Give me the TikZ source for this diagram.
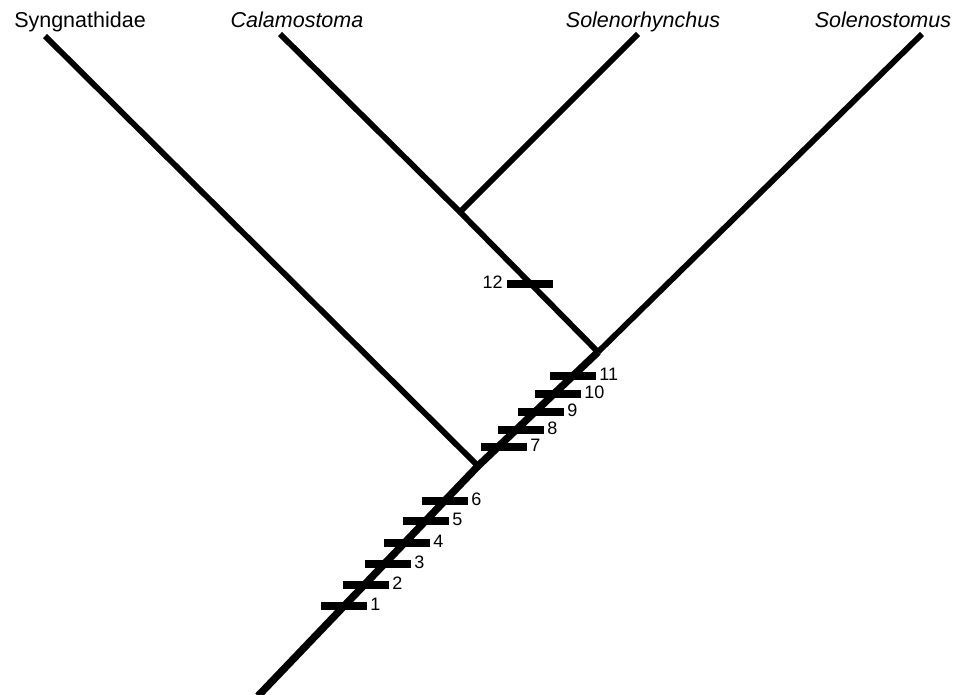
\documentclass[tikz,border=0pt]{standalone}
\usepackage{fontspec}
\setmainfont{Liberation Sans}
\begin{document}
\begin{tikzpicture}[x=1pt,y=-1pt,
  branch/.style={line width=5.8pt},
  trunk/.style={line width=7.4pt},
  bar/.style={rectangle,fill=black,minimum width=46pt,minimum height=8.5pt,inner sep=0pt},
  taxon/.style={anchor=base,inner sep=0pt,font=\fontsize{21.5}{25}\selectfont},
  numlab/.style={anchor=west,inner sep=0pt,font=\fontsize{18}{20}\selectfont},
  numlabl/.style={anchor=east,inner sep=0pt,font=\fontsize{18}{20}\selectfont}]
\useasboundingbox (0,0) rectangle (958,694);
% taxon labels
\node[taxon] (lSyn) at (80,27) {Syngnathidae};
\node[taxon] (lCal) at (297,27) {\itshape Calamostoma};
\node[taxon] (lSor) at (643,27) {\itshape Solenorhynchus};
\node[taxon] (lSol) at (883,27) {\itshape Solenostomus};
% tips and internal nodes
\coordinate (tSyn) at (45,36);
\coordinate (tCal) at (280,34);
\coordinate (tSor) at (638,34);
\coordinate (tSol) at (922,34);
\coordinate (root) at (258,696);
\coordinate (A) at (478,466);
\coordinate (B) at (598,352);
\coordinate (C) at (460,212);
% branches
\draw[trunk,line join=miter] (root) -- (A) -- (B);
\draw[branch] (B) -- (tSol);
\draw[branch] (A) -- (tSyn);
\draw[branch] (B) -- (C) -- (tCal);
\draw[branch] (C) -- (tSor);
% character bars
\node[bar] (b1) at (344,606) {};
\node[bar] (b2) at (366,585) {};
\node[bar] (b3) at (388,564) {};
\node[bar] (b4) at (407,543) {};
\node[bar] (b5) at (426,521) {};
\node[bar] (b6) at (445,501) {};
\node[bar] (b7) at (504,447) {};
\node[bar] (b8) at (521,430) {};
\node[bar] (b9) at (541,412) {};
\node[bar] (b10) at (558,394) {};
\node[bar] (b11) at (573,376) {};
\node[bar] (b12) at (530,284) {};
% bar labels
\node[numlab] (n1) at ([xshift=3pt,yshift=1.5pt]b1.east) {1};
\node[numlab] (n2) at ([xshift=3pt,yshift=1.5pt]b2.east) {2};
\node[numlab] (n3) at ([xshift=3pt,yshift=1.5pt]b3.east) {3};
\node[numlab] (n4) at ([xshift=3pt,yshift=1.5pt]b4.east) {4};
\node[numlab] (n5) at ([xshift=3pt,yshift=1.5pt]b5.east) {5};
\node[numlab] (n6) at ([xshift=3pt,yshift=1.5pt]b6.east) {6};
\node[numlab] (n7) at ([xshift=3pt,yshift=1.5pt]b7.east) {7};
\node[numlab] (n8) at ([xshift=3pt,yshift=1.5pt]b8.east) {8};
\node[numlab] (n9) at ([xshift=3pt,yshift=1.5pt]b9.east) {9};
\node[numlab] (n10) at ([xshift=3pt,yshift=1.5pt]b10.east) {10};
\node[numlab] (n11) at ([xshift=3pt,yshift=1.5pt]b11.east) {11};
\node[numlabl] (n12) at ([xshift=-4pt,yshift=1.5pt]b12.west) {12};
\end{tikzpicture}
\end{document}
